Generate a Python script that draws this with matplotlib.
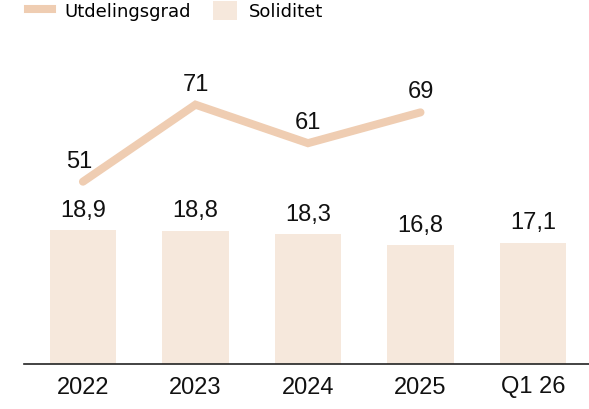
import numpy as np
import matplotlib.pyplot as plt
from matplotlib.lines import Line2D
from matplotlib.patches import Patch

# Data
categories = ["2022", "2023", "2024", "2025", "Q1 26"]
soliditet = [18.9, 18.8, 18.3, 16.8, 17.1]
utdeling = [51, 71, 61, 69]
bar_labels = ["18,9", "18,8", "18,3", "16,8", "17,1"]

bar_color = "#F6E8DC"
line_color = "#EFCDB2"

plt.rcParams["font.family"] = ["Liberation Sans", "DejaVu Sans"]

fig = plt.figure(figsize=(5.89, 4.09), dpi=100)
ax = fig.add_axes([24 / 589, 45 / 409, 565 / 589, 324 / 409])
ax2 = ax.twinx()

x = np.arange(len(categories))

# Bars
ax.bar(x, soliditet, width=0.59, color=bar_color, zorder=1)
for xi, v, lab in zip(x, soliditet, bar_labels):
    ax.annotate(lab, (xi, v), xytext=(0, 6), textcoords="offset points",
                ha="center", va="bottom", fontsize=17, color="#111111")
ax.set_ylim(0, 45.7)
ax.set_xlim(-0.524, 4.498)

# Line
xl = x[:len(utdeling)]
ax2.plot(xl, utdeling, color=line_color, lw=5.8, solid_capstyle="round",
         solid_joinstyle="miter")
for xi, v in zip(xl, utdeling):
    ax2.annotate(str(v), (xi, v), xytext=(-3 if xi == 0 else 0, 6.5),
                 textcoords="offset points",
                 ha="center", va="bottom", fontsize=17, color="#111111")
ax2.set_ylim(3.64, 87.8)

for a in (ax, ax2):
    for s in ["top", "right", "left"]:
        a.spines[s].set_visible(False)
    a.set_yticks([])
ax.spines["bottom"].set_visible(True)
ax.spines["bottom"].set_color("#222222")
ax.spines["bottom"].set_linewidth(1.2)
ax2.spines["bottom"].set_visible(False)

ax.set_xticks(x)
ax.set_xticklabels(categories, fontsize=17, color="#111111")
ax.tick_params(axis="x", length=0, pad=9)

# Legend (handle sizes given in pixels / font px)
fs = 13
fpx = fs * 100 / 72
handles = [Line2D([0], [0], color=line_color, lw=5.8),
           Patch(facecolor=bar_color, edgecolor="none")]
fig.legend(handles, ["Utdelingsgrad", "Soliditet"], loc="upper left",
           bbox_to_anchor=(28 / 589, 408 / 409), ncol=2, frameon=False,
           prop={"family": "DejaVu Sans", "size": fs},
           handlelength=24 / fpx, handleheight=23 / fpx,
           handletextpad=12 / fpx, columnspacing=22 / fpx,
           borderpad=0, borderaxespad=0)

fig.savefig("out.png", dpi=100)
